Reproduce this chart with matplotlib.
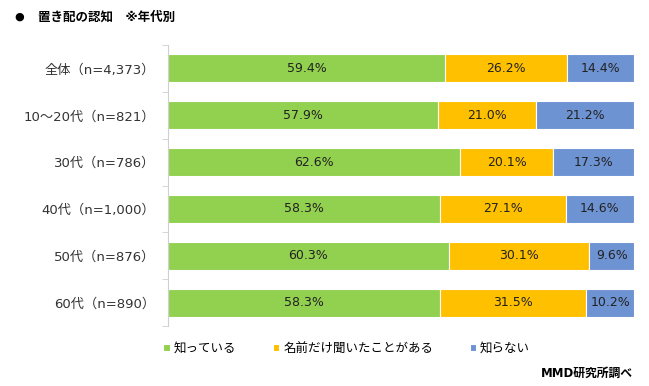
import matplotlib
matplotlib.use("Agg")
import matplotlib.pyplot as plt
import numpy as np

plt.rcParams["font.family"] = ["DejaVu Sans", "Noto Sans CJK JP"]

# --- dados ---
grupos = ["全体（n=4,373）", "10～20代（n=821）", "30代（n=786）",
          "40代（n=1,000）", "50代（n=876）", "60代（n=890）"]
series = ["知っている", "名前だけ聞いたことがある", "知らない"]
sabe = [59.4, 57.9, 62.6, 58.3, 60.3, 58.3]
so_nome = [26.2, 21.0, 20.1, 27.1, 30.1, 31.5]
nao_sabe = [14.4, 21.2, 17.3, 14.6, 9.6, 10.2]
cores = ["#92D050", "#FFC000", "#6E93D2"]

W, H = 649, 386
fig = plt.figure(figsize=(W / 100, H / 100), dpi=100)
ax = fig.add_axes([168 / W, 1 - 326 / H, (634 - 168) / W, (326 - 45) / H])

y = np.arange(len(grupos))
esq = np.zeros(len(grupos))
for nome, vals, cor in zip(series, [sabe, so_nome, nao_sabe], cores):
    vals = np.array(vals)
    ax.barh(y, vals, left=esq, height=0.6, color=cor, edgecolor="white",
            linewidth=0.8, label=nome)
    for yi, l, v in zip(y, esq, vals):
        ax.text(l + v / 2, yi, f"{v:.1f}%", ha="center", va="center",
                fontsize=9, color="#222222")
    esq += vals

ax.set_xlim(0, 100)
ax.set_ylim(len(grupos) - 0.5, -0.5)
ax.set_xticks([])
ax.set_yticks(y)
ax.set_yticklabels(grupos, fontsize=9.5, color="#333333")
ax.set_yticks(np.arange(-0.5, len(grupos)), minor=True)
ax.tick_params(axis="y", which="major", length=0, pad=9)
ax.tick_params(axis="y", which="minor", length=4, color="#d0d0d0")
for s in ["top", "right", "bottom"]:
    ax.spines[s].set_visible(False)
ax.spines["left"].set_color("#d0d0d0")

# titulo
fig.text(14 / W, 1 - 17 / H, "●", fontsize=8, va="center", ha="left", color="black")
fig.text(38 / W, 1 - 17 / H, "置き配の認知　※年代別", fontsize=9, va="center",
         ha="left", fontweight="bold")

# legenda
fig.legend(*ax.get_legend_handles_labels(), loc="center left",
           bbox_to_anchor=(152 / W, 1 - 348 / H), ncol=3, frameon=False,
           fontsize=9, handlelength=0.5, handleheight=0.5, handletextpad=0.35,
           columnspacing=2.9)

fig.text(633 / W, 1 - 373 / H, "MMD研究所調べ", fontsize=8.5, ha="right",
         va="center", fontweight="bold")

fig.savefig("out.png", dpi=100)
